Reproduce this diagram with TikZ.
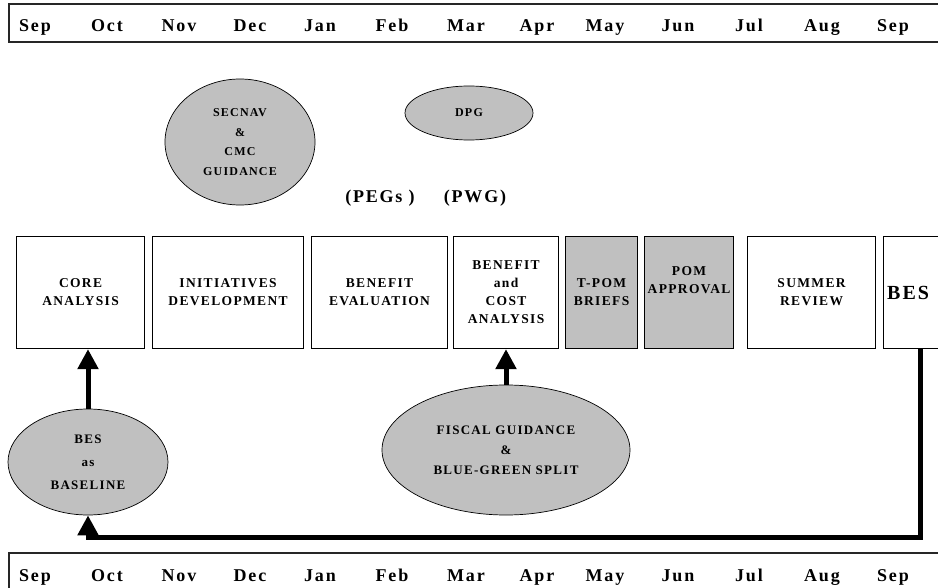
\documentclass[tikz,border=0pt]{standalone}
\usepackage{fontspec}
\setmainfont{Liberation Serif}
\newfontfamily\spaced[LetterSpace=10]{Liberation Serif}
\usetikzlibrary{arrows.meta, shapes.geometric, positioning}
\definecolor{shade}{HTML}{C0C0C0}
\tikzstyle{bar}=[draw=black!85, line width=1.6pt]
\tikzstyle{month}=[font=\spaced\bfseries\fontsize{18}{20}\selectfont, inner sep=0pt, anchor=base]
\tikzstyle{stage}=[draw, line width=1.1pt, fill=white, anchor=north west, minimum height=112pt,
  inner sep=1pt, align=center, font=\spaced\bfseries\fontsize{13.5}{18}\selectfont]
\tikzstyle{staged}=[stage, fill=shade]
\tikzstyle{input}=[ellipse, draw, line width=0.7pt, fill=shade, inner sep=0pt, align=center,
  font=\spaced\bfseries\fontsize{12}{19.5}\selectfont]
\tikzstyle{feed}=[line width=5pt, -{Triangle[length=20pt,width=20pt]}]

\begin{document}
\begin{tikzpicture}[x=1pt, y=-1pt]
  \useasboundingbox (0,0) rectangle (938,588);
  \fill[white] (0,0) rectangle (938,588);
  \clip (0,0) rectangle (938,588);

  % month scales
  \draw[bar] (940,4) -- (9,4) -- (9,42) -- (940,42);
  \draw[bar] (940,553) -- (9,553) -- (9,590);
  \foreach \m/\x [count=\i] in {Sep/35, Oct/107, Nov/179, Dec/250, Jan/320, Feb/392, Mar/466,
      Apr/537, May/605, Jun/678, Jul/749, Aug/822, Sep/893} {
    \node[month] (top\i) at (\x,32) {\m};
    \node[month] (bot\i) at (\x,581) {\m};
  }

  % guidance
  \node[input, minimum width=150pt, minimum height=126pt] (secnav) at (240,142) {SECNAV\\\&\\CMC\\GUIDANCE};
  \node[input, minimum width=128pt, minimum height=54pt] (dpg) at (469,113) {DPG};
  \node[font=\spaced\bfseries\fontsize{18}{20}\selectfont] (pegs) at (380,198) {(PEGs )};
  \node[font=\spaced\bfseries\fontsize{18}{20}\selectfont] (pwg) at (475,198) {(PWG)};

  % stages
  \node[stage, minimum width=128pt] (core) at (16,236) {CORE\\ANALYSIS};
  \node[stage, minimum width=151pt] (init) at (152,236) {INITIATIVES\\DEVELOPMENT};
  \node[stage, minimum width=136pt] (beval) at (311,236) {BENEFIT\\EVALUATION};
  \node[stage, minimum width=105pt] (bca) at (453,236) {BENEFIT\\and\\COST\\ANALYSIS};
  \node[staged, minimum width=72pt] (tpom) at (565,236) {T-POM\\BRIEFS};
  \node[staged, minimum width=89pt] (pom) at (644,236) {POM\\APPROVAL\\[8pt]};
  \node[stage, minimum width=128pt] (summer) at (747,236) {SUMMER\\REVIEW};
  \node[stage, minimum width=74pt] (bes) at (883,236) {};
  \node[anchor=west, inner sep=0pt, font=\spaced\bfseries\fontsize{20}{22}\selectfont] (bestext) at ([xshift=4pt]bes.west) {BES};

  % inputs below
  \node[input, minimum width=160pt, minimum height=106pt, font=\spaced\bfseries\fontsize{13}{23}\selectfont] (baseline) at (88,462) {BES\\as\\BASELINE};
  \node[input, minimum width=248pt, minimum height=130pt, font=\spaced\bfseries\fontsize{13}{20}\selectfont] (fiscal) at (506,450) {FISCAL GUIDANCE\\\&\\BLUE-GREEN SPLIT};

  \coordinate (turn) at (0,537);
  \draw[feed] (baseline.north) -- (baseline.north |- core.south);
  \draw[feed] (fiscal.north) -- (fiscal.north |- bca.south);
  \draw[feed, line join=miter] (bes.south) -- (bes.south |- turn) -| (baseline.south);
\end{tikzpicture}
\end{document}
